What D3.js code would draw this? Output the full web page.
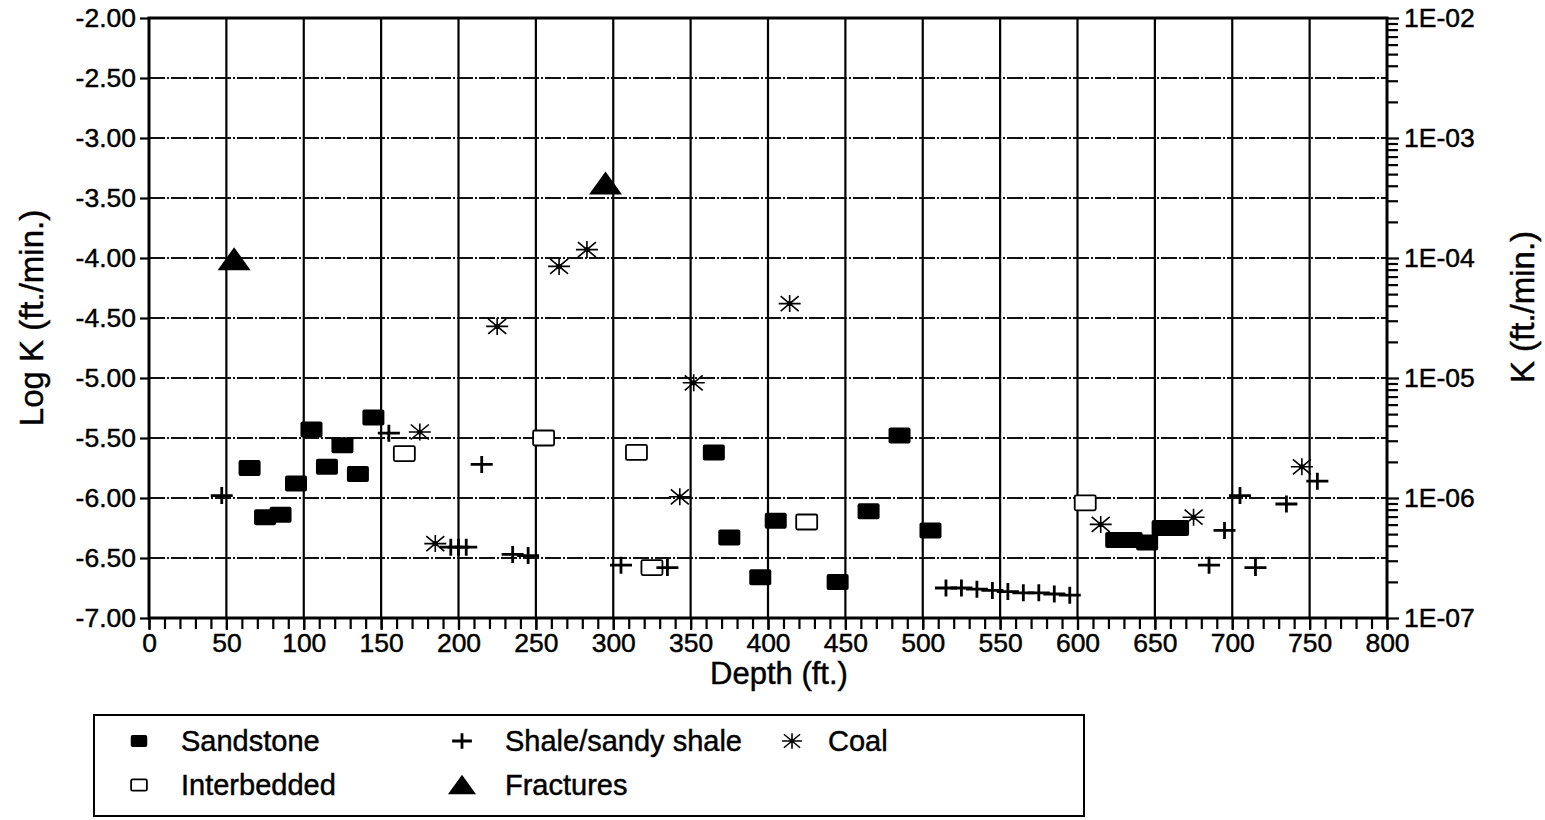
<!DOCTYPE html>
<html>
<head>
<meta charset="utf-8">
<script src="https://cdn.jsdelivr.net/npm/d3@7"></script>
<style>
  html, body { margin: 0; padding: 0; background: #fff; }
  svg { display: block; }
  text { font-family: "Liberation Sans", Arial, Helvetica, sans-serif; fill: #000; stroke: #000; stroke-width: 0.45; }
</style>
</head>
<body>
<svg id="chart" width="1545" height="820"></svg>
<script>
// ---- data (depth in ft, log K in ft/min) ----
const sandstoneDepth = [65, 75, 85, 95, 105, 115, 125, 135, 145, 365, 375, 395, 405, 445, 465, 485, 505, 625, 635, 645, 655, 665];
const sandstoneLogK  = [-5.75, -6.16, -6.14, -5.88, -5.43, -5.74, -5.56, -5.80, -5.33, -5.62, -6.33, -6.66, -6.19, -6.70, -6.11, -5.48, -6.27, -6.35, -6.35, -6.37, -6.25, -6.25];

const interbeddedDepth = [165, 255, 315, 325, 425, 605];
const interbeddedLogK  = [-5.63, -5.50, -5.62, -6.58, -6.20, -6.04];

const shaleDepth = [47, 155, 215, 195, 200, 205, 235, 245, 305, 335, 515, 525, 535, 545, 555, 565, 575, 585, 595, 685, 695, 705, 715, 735, 755];
const shaleLogK  = [-5.98, -5.46, -5.72, -6.41, -6.41, -6.41, -6.47, -6.48, -6.56, -6.58, -6.75, -6.75, -6.76, -6.77, -6.78, -6.79, -6.79, -6.80, -6.81, -6.56, -6.27, -5.98, -6.58, -6.05, -5.86];

const coalDepth = [175, 185, 225, 265, 283, 343, 352, 414, 615, 675, 745];
const coalLogK  = [-5.45, -6.38, -4.57, -4.07, -3.93, -5.99, -5.04, -4.38, -6.22, -6.16, -5.74];

const fractureDepth = [55, 295];
const fractureLogK  = [-4.01, -3.38];

const xTicks = d3.range(0, 801, 50);
const xMinorTicks = d3.range(0, 801, 10);
const yTicks = [-2, -2.5, -3, -3.5, -4, -4.5, -5, -5.5, -6, -6.5, -7];
const kMajorTicks = [1e-7, 1e-6, 1e-5, 1e-4, 1e-3, 1e-2];
const kTickLabels = ["1E-07", "1E-06", "1E-05", "1E-04", "1E-03", "1E-02"];

const legendRow1 = [["sandstone", "Sandstone"], ["shale", "Shale/sandy shale"], ["coal", "Coal"]];
const legendRow2 = [["interbedded", "Interbedded"], ["fracture", "Fractures"]];

// ---- layout ----
const svg = d3.select("#chart");
const L = 149, R = 1387, T = 18, B = 618;

const x = d3.scaleLinear().domain([0, 800]).range([L, R]);
const y = d3.scaleLinear().domain([-7, -2]).range([B, T]);
const yK = d3.scaleLog().domain([1e-7, 1e-2]).range([B, T]);

// grid
const grid = svg.append("g");
grid.selectAll("line.v").data(xTicks.filter(d => d > 0 && d < 800)).join("line")
  .attr("x1", d => x(d)).attr("x2", d => x(d)).attr("y1", T).attr("y2", B)
  .attr("stroke", "#000").attr("stroke-width", 2.2);
grid.selectAll("line.h").data(yTicks.filter(d => d > -7 && d < -2)).join("line")
  .attr("x1", L).attr("x2", R).attr("y1", d => y(d)).attr("y2", d => y(d))
  .attr("stroke", "#111").attr("stroke-width", 2).attr("stroke-dasharray", "16 2 2 2");

// axes
const fmt = d => d.toFixed(2);
const gLeft = svg.append("g").attr("transform", `translate(${L},0)`)
  .call(d3.axisLeft(y).tickValues(yTicks).tickFormat(fmt).tickSize(9).tickPadding(4));
const gBottom = svg.append("g").attr("transform", `translate(0,${B})`)
  .call(d3.axisBottom(x).tickValues(xMinorTicks).tickFormat("").tickSize(11));
const gBottomLab = svg.append("g").attr("transform", `translate(0,${B})`)
  .call(d3.axisBottom(x).tickValues(xTicks).tickFormat(d => d).tickSize(12).tickPadding(3));

const kMinor = [];
for (let e = -7; e < -2; e++) for (let m = 2; m <= 9; m++) kMinor.push(m * Math.pow(10, e));
const gRightMinor = svg.append("g").attr("transform", `translate(${R},0)`)
  .call(d3.axisRight(yK).tickValues(kMinor).tickFormat("").tickSize(11));
const gRight = svg.append("g").attr("transform", `translate(${R},0)`)
  .call(d3.axisRight(yK).tickValues(kMajorTicks).tickFormat((d, i) => kTickLabels[i]).tickSize(12).tickPadding(4));

[gLeft, gBottom, gBottomLab, gRightMinor, gRight].forEach(g => {
  g.select(".domain").remove();
  g.selectAll(".tick line").attr("stroke", "#000").attr("stroke-width", 2.2);
  g.selectAll("text").attr("font-size", 26.5).attr("fill", "#000")
    .style("font-family", "'Liberation Sans', Arial, sans-serif");
});
gRight.selectAll(".tick text").attr("x", 17);

// frame
svg.append("rect").attr("x", L).attr("y", T).attr("width", R - L).attr("height", B - T)
  .attr("fill", "none").attr("stroke", "#000").attr("stroke-width", 3);

// axis titles
svg.append("text").attr("x", 779).attr("y", 684).attr("text-anchor", "middle")
  .attr("font-size", 31).text("Depth (ft.)");
svg.append("text").attr("transform", "translate(43,318) rotate(-90)").attr("text-anchor", "middle")
  .attr("font-size", 33).text("Log K (ft./min.)");
svg.append("text").attr("transform", "translate(1534,307) rotate(-90)").attr("text-anchor", "middle")
  .attr("font-size", 33).text("K (ft./min.)");

// marker drawers
function drawMarker(g, type, scale) {
  const s = scale || 1;
  if (type === "sandstone") {
    g.append("rect").attr("x", -11 * s).attr("y", -8 * s).attr("width", 22 * s).attr("height", 16 * s)
      .attr("rx", 2).attr("fill", "#000");
  } else if (type === "interbedded") {
    g.append("rect").attr("x", -10.5 * s).attr("y", -7.5 * s).attr("width", 21 * s).attr("height", 15 * s)
      .attr("rx", 1.5).attr("fill", "#fff").attr("stroke", "#000").attr("stroke-width", 1.8);
  } else if (type === "shale") {
    g.append("path").attr("d", `M${-11 * s},0H${11 * s}M0,${-8.5 * s}V${8.5 * s}`)
      .attr("stroke", "#000").attr("stroke-width", 2.8).attr("fill", "none");
  } else if (type === "coal") {
    const hx = 11 * s, vy = 8.5 * s, dx = 9 * s, dy = 7.5 * s;
    g.append("path").attr("d", `M${-hx},0H${hx}M0,${-vy}V${vy}M${-dx},${-dy}L${dx},${dy}M${-dx},${dy}L${dx},${-dy}`)
      .attr("stroke", "#000").attr("stroke-width", 1.6).attr("fill", "none");
    g.append("circle").attr("r", 2.6 * s).attr("fill", "#000");
  } else if (type === "fracture") {
    g.append("path").attr("d", `M0,${-12 * s}L${16.5 * s},${11 * s}L${-16.5 * s},${11 * s}Z`).attr("fill", "#000");
  }
}

function plotSeries(xs, ys, type) {
  const g = svg.append("g");
  xs.forEach((d, i) => {
    const m = g.append("g").attr("transform", `translate(${x(d)},${y(ys[i])})`);
    drawMarker(m, type, 1);
  });
}
plotSeries(interbeddedDepth, interbeddedLogK, "interbedded");
plotSeries(sandstoneDepth, sandstoneLogK, "sandstone");
plotSeries(shaleDepth, shaleLogK, "shale");
plotSeries(coalDepth, coalLogK, "coal");
plotSeries(fractureDepth, fractureLogK, "fracture");

// legend
const lg = svg.append("g");
lg.append("rect").attr("x", 94).attr("y", 715).attr("width", 990).attr("height", 101)
  .attr("fill", "#fff").attr("stroke", "#000").attr("stroke-width", 2);
const colMarkerX = [139, 462, 792];
const colTextX = [181, 505, 828];
const legendScale = { sandstone: 0.75, interbedded: 0.75, shale: 0.9, coal: 0.9, fracture: 0.85 };
const rows = [[legendRow1, 741], [legendRow2, 785]];
rows.forEach(([row, yy]) => {
  row.forEach(([type, label], i) => {
    const m = lg.append("g").attr("transform", `translate(${colMarkerX[i]},${yy})`);
    drawMarker(m, type, legendScale[type]);
    lg.append("text").attr("x", colTextX[i]).attr("y", yy).attr("dy", "0.36em")
      .attr("font-size", 29).text(label);
  });
});
</script>
</body>
</html>
